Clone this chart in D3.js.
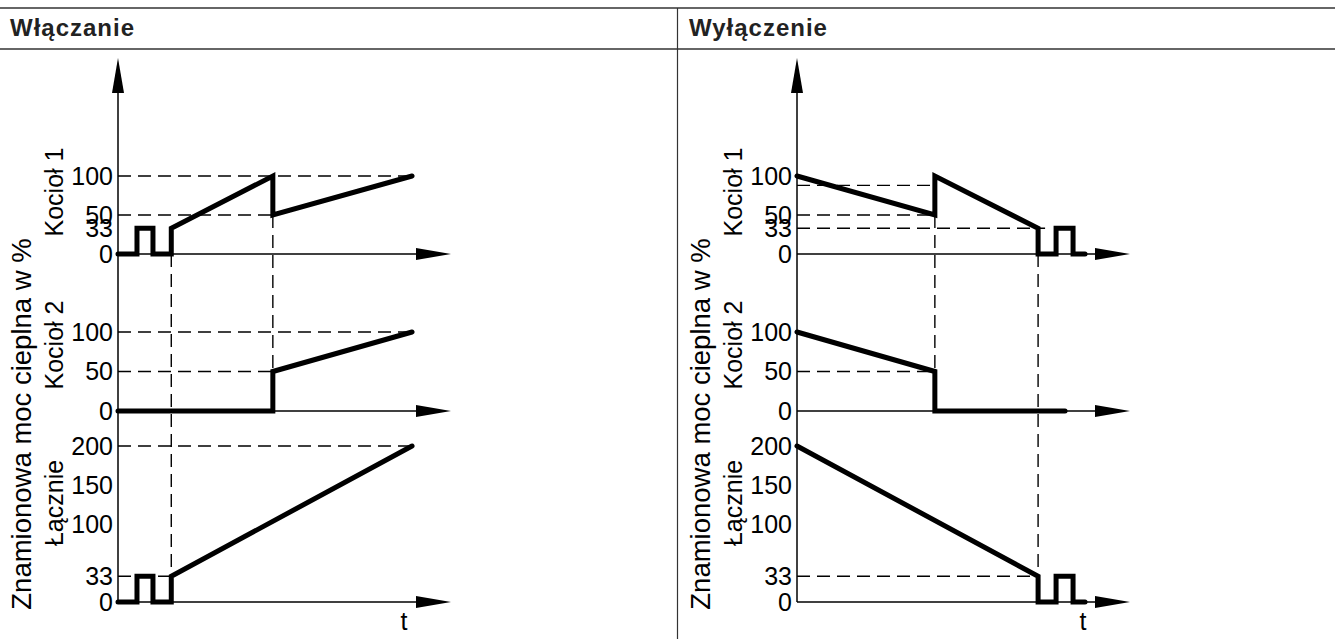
<!DOCTYPE html>
<html>
<head>
<meta charset="utf-8">
<script src="https://cdn.jsdelivr.net/npm/d3@7"></script>
<style>
  body { margin: 0; background: #fff; }
  svg { display: block; font-family: "Liberation Sans", Arial, sans-serif; }
</style>
</head>
<body>
<div id="chart"></div>
<script>
// panel titles and row labels
var titles = ["Włączanie", "Wyłączenie"];
var rowLabels = ["Kocioł 1", "Kocioł 2", "Łącznie"];
var yLabel = "Znamionowa moc cieplna w %";

// tick labels per row
var ticksB1 = [0, 33, 50, 100];
var ticksB2 = [0, 50, 100];
var ticksTotal = [0, 33, 100, 150, 200];

// switching on (time in % of the axis length)
var onB1Time = [0, 5.7, 5.7, 10.5, 10.5, 16, 16, 46.5, 46.5, 88.3];
var onB1Val  = [0, 0, 33, 33, 0, 0, 33, 100, 50, 100];
var onB2Time = [0, 46.5, 46.5, 88.3];
var onB2Val  = [0, 0, 50, 100];
var onTotTime = [0, 5.7, 5.7, 10.5, 10.5, 16, 16, 88.3];
var onTotVal  = [0, 0, 33, 33, 0, 0, 33, 200];

// switching off
var offB1Time = [0, 41.4, 41.4, 72.4, 72.4, 77.8, 77.8, 82.9, 82.9, 86.5];
var offB1Val  = [100, 50, 100, 33, 0, 0, 33, 33, 0, 0];
var offB2Time = [0, 41.4, 41.4, 80.5];
var offB2Val  = [100, 50, 0, 0];
var offTotTime = [0, 72.4, 72.4, 77.8, 77.8, 82.9, 82.9, 86.5];
var offTotVal  = [200, 33, 0, 0, 33, 33, 0, 0];

// dashed guides: [row, level, time end]
var onHGuides  = [[0, 100, 88.3], [0, 50, 46.5], [1, 100, 88.3], [1, 50, 46.5], [2, 200, 88.3], [2, 33, 16]];
var offHGuides = [[0, 88, 41.4], [0, 50, 41.4], [0, 33, 74.5], [1, 50, 41.4], [2, 33, 72.4]];
// vertical guides: [time, row from, level from, row to, level to]
var onVGuides  = [[16, 0, 0, 2, 33], [46.5, 0, 50, 1, 50]];
var offVGuides = [[41.4, 0, 50, 1, 50], [72.4, 0, 0, 2, 33]];

var width = 1335, height = 639;
var axisLen = 333, panelShift = 679, axisX0 = 118, axisTop = 58;

var svg = d3.select("#chart").append("svg")
    .attr("width", width)
    .attr("height", height);

// frame lines
svg.append("line").attr("x1", 0).attr("x2", width).attr("y1", 8).attr("y2", 8)
    .style("stroke", "#333").style("stroke-width", "1.5px");
svg.append("line").attr("x1", 0).attr("x2", width).attr("y1", 49).attr("y2", 49)
    .style("stroke", "#333").style("stroke-width", "1.5px");
svg.append("line").attr("x1", 677.5).attr("x2", 677.5).attr("y1", 8).attr("y2", height)
    .style("stroke", "#333").style("stroke-width", "1.2px");

var yScales = [
  d3.scaleLinear().domain([0, 100]).range([254, 176]),
  d3.scaleLinear().domain([0, 100]).range([411, 332]),
  d3.scaleLinear().domain([0, 200]).range([602, 446])
];
var rowTicks = [ticksB1, ticksB2, ticksTotal];

var panels = [
  {series: [[onB1Time, onB1Val], [onB2Time, onB2Val], [onTotTime, onTotVal]], h: onHGuides, v: onVGuides},
  {series: [[offB1Time, offB1Val], [offB2Time, offB2Val], [offTotTime, offTotVal]], h: offHGuides, v: offVGuides}
];

panels.forEach(function(p, pi) {
  var g = svg.append("g").attr("transform", "translate(" + (pi * panelShift) + ",0)");
  var x = d3.scaleLinear().domain([0, 100]).range([axisX0, axisX0 + axisLen]);

  g.append("text")
    .attr("x", 10).attr("y", 36)
    .attr("font-size", 24).attr("font-weight", "bold")
    .attr("letter-spacing", "1px")
    .style("fill", "#222")
    .text(titles[pi]);

  // dashed guides
  p.h.forEach(function(d) {
    g.append("line")
      .attr("x1", x(0)).attr("x2", x(d[2]))
      .attr("y1", yScales[d[0]](d[1])).attr("y2", yScales[d[0]](d[1]))
      .style("stroke", "#000").style("stroke-width", "1.4px")
      .style("stroke-dasharray", "13,7");
  });
  p.v.forEach(function(d) {
    g.append("line")
      .attr("x1", x(d[0])).attr("x2", x(d[0]))
      .attr("y1", yScales[d[1]](d[2])).attr("y2", yScales[d[3]](d[4]))
      .style("stroke", "#000").style("stroke-width", "1.4px")
      .style("stroke-dasharray", "13,7");
  });

  // vertical axis + arrow
  g.append("line")
    .attr("x1", axisX0).attr("x2", axisX0)
    .attr("y1", yScales[2](0)).attr("y2", axisTop + 20)
    .style("stroke", "#000").style("stroke-width", "1.5px");
  g.append("path")
    .attr("d", "M" + axisX0 + "," + axisTop + "L" + (axisX0 + 6) + "," + (axisTop + 35) +
      "L" + (axisX0 - 6) + "," + (axisTop + 35) + "Z")
    .style("fill", "#000");

  yScales.forEach(function(y, ri) {
    // horizontal axis with arrow
    g.append("line")
      .attr("x1", axisX0).attr("x2", axisX0 + axisLen - 20)
      .attr("y1", y(0)).attr("y2", y(0))
      .style("stroke", "#000").style("stroke-width", "1.5px");
    g.append("path")
      .attr("d", "M" + (axisX0 + axisLen) + "," + y(0) + "L" + (axisX0 + axisLen - 35) + "," + (y(0) - 6) +
        "L" + (axisX0 + axisLen - 35) + "," + (y(0) + 6) + "Z")
      .style("fill", "#000");

    var yAxis = d3.axisLeft(y)
      .tickValues(rowTicks[ri])
      .tickSize(0)
      .tickPadding(5)
      .tickFormat(d3.format("d"));
    var ax = g.append("g")
      .attr("transform", "translate(" + axisX0 + ",0)")
      .call(yAxis);
    ax.select(".domain").remove();
    ax.selectAll("text")
      .attr("font-size", 25)
      .attr("font-family", "Liberation Sans, Arial, sans-serif")
      .style("fill", "#000");

    // series line
    var s = p.series[ri];
    var pts = s[0].map(function(t, i) { return [x(t), y(s[1][i])]; });
    g.append("path")
      .attr("d", d3.line()(pts))
      .style("fill", "none")
      .style("stroke", "#000")
      .style("stroke-width", "5px")
      .style("stroke-linejoin", "miter")
      .style("stroke-linecap", "round");
  });

  // row labels
  var labelY = [192, 345, 503];
  rowLabels.forEach(function(l, i) {
    g.append("text")
      .attr("transform", "translate(63," + labelY[i] + ") rotate(-90)")
      .attr("text-anchor", "middle")
      .attr("font-size", 25)
      .text(l);
  });
  g.append("text")
    .attr("transform", "translate(31,424) rotate(-90)")
    .attr("text-anchor", "middle")
    .attr("font-size", 27.5)
    .text(yLabel);

  g.append("text")
    .attr("x", axisX0 + 286).attr("y", 630)
    .attr("text-anchor", "middle")
    .attr("font-size", 25)
    .text("t");
});
</script>
</body>
</html>
